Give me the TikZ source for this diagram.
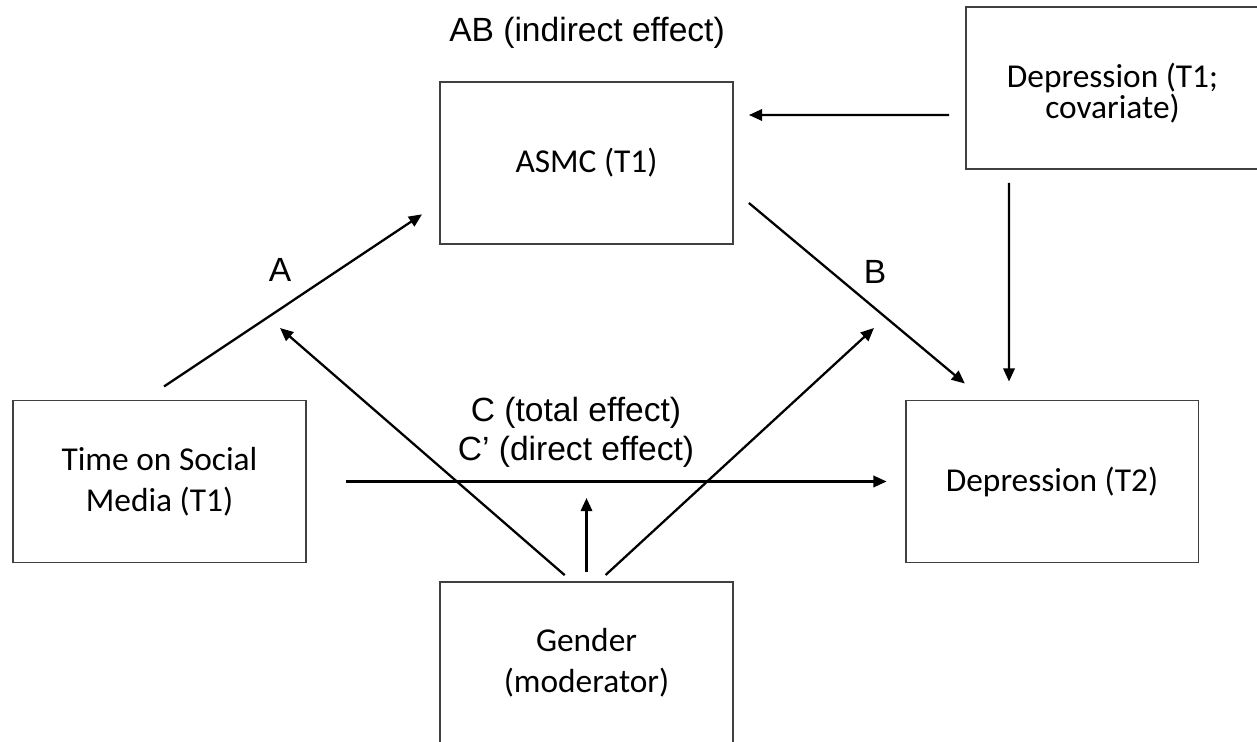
\documentclass[tikz,border=0pt]{standalone}
\usepackage{fontspec}
\setmainfont{Carlito}
\newfontfamily\labfont{Liberation Sans}
\usetikzlibrary{arrows.meta}

\begin{document}
\begin{tikzpicture}[x=0.02cm, y=-0.02cm,
    box/.style={draw=black!75, line width=1.1pt, minimum width=5.86cm, minimum height=3.24cm, inner sep=0pt, align=center, font=\fontsize{19}{23.5}\selectfont},
    lab/.style={inner sep=0pt, align=center, font=\labfont\fontsize{19.1}{22.2}\selectfont},
    arr/.style={-{Triangle[length=7.5pt,width=6.5pt]}, line width=1.3pt}]
    \useasboundingbox (0,0) rectangle (1257,742);
    \clip (0,0) rectangle (1257,742);
    \fill[white] (0,0) rectangle (1257,742);
    \node[box] (m) at (586.5,163) {ASMC (T1)};
    \node[box] (x) at (159.5,481.5) {Time on Social\\Media (T1)};
    \node[box] (y) at (1052,481.5) {Depression (T2)};
    \node[box] (c) at (1112.5,88) {\raisebox{0pt}[\dimexpr\height+6pt]{Depression (T1;}\\[-6pt]covariate)};
    \node[box] (w) at (586.5,663) {Gender\\(moderator)};
    \node[lab] (ab) at (587,33) {AB (indirect effect)};
    \node[lab] (la) at (280,270) {A};
    \node[lab] (lb) at (875,272) {B};
    \node[lab] (lc) at (576,432) {C (total effect)\\C’ (direct effect)};
    \coordinate (ta) at (280,328);
    \coordinate (tb) at (874,328);
        \draw[arr, shorten <=0.47cm, shorten >=0.41cm] ([xshift=-0.3cm]x.north) -- ([yshift=-0.8cm]m.west);
        \draw[arr, shorten <=0.39cm, shorten >=0.5cm] ([yshift=-0.55cm]m.east) -- ([xshift=-1.36cm]y.north);
        \draw[arr, shorten <=0.32cm, shorten >=0.3cm] ([yshift=-0.54cm]c.west) -- ([yshift=0.96cm]m.east);
        \draw[arr, shorten <=0.26cm, shorten >=0.36cm] ([xshift=-2.07cm]c.south) -- ([xshift=-0.86cm]y.north);
        \draw[arr, shorten <=0.78cm, shorten >=0.36cm] (x.east) -- (y.west);
        \draw[arr, shorten <=0.18cm, shorten >=0.33cm] (w.north) -- (w.north |- x.east);
        \draw[arr, shorten <=0.18cm] ([xshift=-0.3cm]w.north) -- (ta);
        \draw[arr, shorten <=0.18cm] ([xshift=0.25cm]w.north) -- (tb);
\end{tikzpicture}
\end{document}
